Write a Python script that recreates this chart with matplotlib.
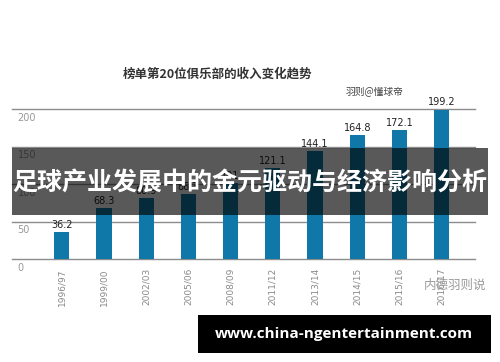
import numpy as np
import matplotlib
matplotlib.use('Agg')
import matplotlib.pyplot as plt
from matplotlib.patches import Rectangle

plt.rcParams['font.family'] = ['Noto Sans CJK SC', 'DejaVu Sans']

seasons = ['1996/97', '1999/00', '2002/03', '2005/06', '2008/09',
           '2011/12', '2013/14', '2014/15', '2015/16', '2016/17']
revenue = [36.2, 68.3, 80.9, 86.3, 101, 121.1, 144.1, 164.8, 172.1, 199.2]
yticks = [0, 50, 100, 150, 200]

title = '榜单第20位俱乐部的收入变化趋势'
source = '羽则@懂球帝'
banner = '足球产业发展中的金元驱动与经济影响分析'
site = 'www.china-ngentertainment.com'
mark = '内德羽则说'

W, H = 500, 362
fig = plt.figure(figsize=(W / 100, H / 100), dpi=100)
fig.patch.set_facecolor('white')

ax = fig.add_axes([12 / W, 1 - 259 / H, 463 / W, 150 / H])
x = np.arange(len(seasons))
ax.bar(x, revenue, width=0.36, color='#0f78a8', zorder=2)
ax.set_xlim(-1.18, 9.79)
ax.set_ylim(0, 200)
for s in ax.spines.values():
    s.set_visible(False)
ax.set_yticks(yticks)
ax.yaxis.grid(True, color='#8c8c8c', linewidth=1, clip_on=False)
ax.set_axisbelow(True)
ax.tick_params(left=False, bottom=False, labelleft=False)
ax.set_xticks(x)
ax.set_xticklabels(seasons, rotation=90, fontsize=6.5, color='#8a8a8a',
                   family='DejaVu Sans')
ax.tick_params(axis='x', pad=3)

for t in yticks:
    ax.text(-1.05, t - 5, str(t), fontsize=7, color='#999999',
            ha='left', va='top', family='DejaVu Sans')

for xi, v in zip(x, revenue):
    ax.text(xi, v + 3, f'{v:g}' if v != int(v) else str(int(v)),
            ha='center', va='bottom', fontsize=7, color='#222222',
            family='DejaVu Sans')

fig.text(218 / W, 1 - 74 / H, title, ha='center', va='center',
         fontsize=9, fontweight='bold', color='#333333')
fig.text(375 / W, 1 - 91 / H, source, ha='center', va='center',
         fontsize=7, color='#444444')

# overlay banner
fig.add_artist(Rectangle((12 / W, 1 - 215 / H), 476 / W, 67 / H,
                         transform=fig.transFigure, facecolor='black',
                         alpha=0.65, edgecolor='none'))
fig.text(250 / W, 1 - 183 / H, banner, ha='center', va='center',
         fontsize=18, fontweight='bold', color='white')

# watermark
fig.text(455 / W, 1 - 285 / H, mark, ha='center', va='center',
         fontsize=9, color='#9a9a9a')

# site label
fig.add_artist(Rectangle((198 / W, 1 - 353 / H), 293 / W, 38 / H,
                         transform=fig.transFigure, facecolor='black',
                         edgecolor='none'))
fig.text(344 / W, 1 - 334 / H, site, ha='center', va='center',
         fontsize=11, fontweight='bold', color='white', family='Open Sans')

fig.savefig('out.png', dpi=100)
